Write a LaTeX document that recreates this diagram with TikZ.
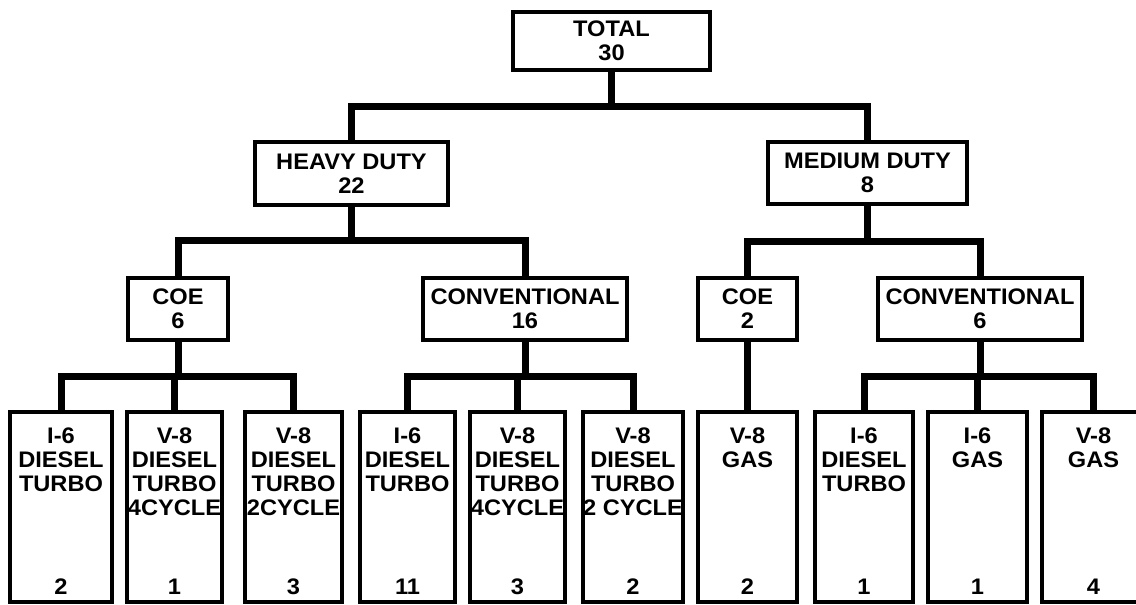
\documentclass[tikz,border=0pt]{standalone}
\usepackage{fontspec}
\setmainfont{Liberation Sans}[FakeStretch=1.05]
\begin{document}
\begin{tikzpicture}[x=1pt,y=-1pt,
  box/.style={draw, line width=3.5pt, inner sep=0pt, align=center,
    font=\fontsize{22.5}{24}\selectfont\bfseries},
  leaf/.style={draw, line width=3.5pt, inner sep=0pt, minimum height=190pt},
  btxt/.style={inner sep=0pt, align=center, font=\fontsize{22.5}{24}\selectfont\bfseries},
  conn/.style={line width=7pt}]
\clip (0,0) rectangle (1136,605);
\fill[white] (0,0) rectangle (1136,605);
% level 0
\node[box, minimum width=197pt, minimum height=58pt] (total) at (611.5,41) {TOTAL\\30};
% level 1
\node[box, minimum width=193pt, minimum height=63pt] (heavy) at (351.5,173.5) {HEAVY DUTY\\22};
\node[box, minimum width=199pt, minimum height=62pt] (medium) at (867.5,173) {MEDIUM DUTY\\8};
% level 2
\node[box, minimum width=100pt, minimum height=62pt] (coeh) at (178,309) {COE\\6};
\node[box, minimum width=204pt, minimum height=62pt] (convh) at (525,309) {CONVENTIONAL\\16};
\node[box, minimum width=99pt, minimum height=62pt] (coem) at (747.5,309) {COE\\2};
\node[box, minimum width=204pt, minimum height=62pt] (convm) at (980,309) {CONVENTIONAL\\6};
% leaves
\node[leaf, minimum width=102pt] (b1) at (61,507) {};
\node[leaf, minimum width=95pt] (b2) at (174.5,507) {};
\node[leaf, minimum width=97pt] (b3) at (293.5,507) {};
\node[leaf, minimum width=95pt] (b4) at (407.5,507) {};
\node[leaf, minimum width=95pt] (b5) at (517.5,507) {};
\node[leaf, minimum width=100pt] (b6) at (633,507) {};
\node[leaf, minimum width=99pt] (b7) at (747.5,507) {};
\node[leaf, minimum width=98pt] (b8) at (864,507) {};
\node[leaf, minimum width=99pt] (b9) at (977.5,507) {};
\node[leaf, minimum width=103pt] (b10) at (1093.5,507) {};
% leaf texts
\foreach \b/\t/\n in {b1/{I-6\\DIESEL\\TURBO}/2,
                      b2/{V-8\\DIESEL\\TURBO\\4CYCLE}/1,
                      b3/{V-8\\DIESEL\\TURBO\\2CYCLE}/3,
                      b4/{I-6\\DIESEL\\TURBO}/11,
                      b5/{V-8\\DIESEL\\TURBO\\4CYCLE}/3,
                      b6/{V-8\\DIESEL\\TURBO\\2 CYCLE}/2,
                      b7/{V-8\\GAS}/2,
                      b8/{I-6\\DIESEL\\TURBO}/1,
                      b9/{I-6\\GAS}/1,
                      b10/{V-8\\GAS}/4}{
  \node[btxt, anchor=north] (\b t) at ([yshift=-17pt]\b.north) {\t};
  \node[btxt, anchor=base] (\b n) at ([yshift=9pt]\b.south) {\n};
}
% connectors
\coordinate (j0) at (611.5,106);
\draw[conn] (total.south) -- (j0);
\draw[conn] (heavy.north) |- (j0) -| (medium.north);
\coordinate (jh) at (351.5,240);
\draw[conn] (heavy.south) -- (jh);
\draw[conn] (coeh.north) |- (jh) -| (convh.north);
\coordinate (jm) at (867.5,241);
\draw[conn] (medium.south) -- (jm);
\draw[conn] (coem.north) |- (jm) -| (convm.north);
\coordinate (jc1) at (178,376);
\draw[conn] (coeh.south) -- (jc1);
\draw[conn] (b1.north) |- (jc1) -| (b3.north);
\draw[conn] (b2.north) -- (b2.north |- jc1);
\coordinate (jc2) at (525,376);
\draw[conn] (convh.south) -- (jc2);
\draw[conn] (b4.north) |- (jc2) -| (b6.north);
\draw[conn] (b5.north) -- (b5.north |- jc2);
\draw[conn] (coem.south) -- (b7.north);
\coordinate (jc3) at (980,376);
\draw[conn] (convm.south) -- (jc3);
\draw[conn] (b8.north) |- (jc3) -| (b10.north);
\draw[conn] (b9.north) -- (b9.north |- jc3);
\end{tikzpicture}
\end{document}
